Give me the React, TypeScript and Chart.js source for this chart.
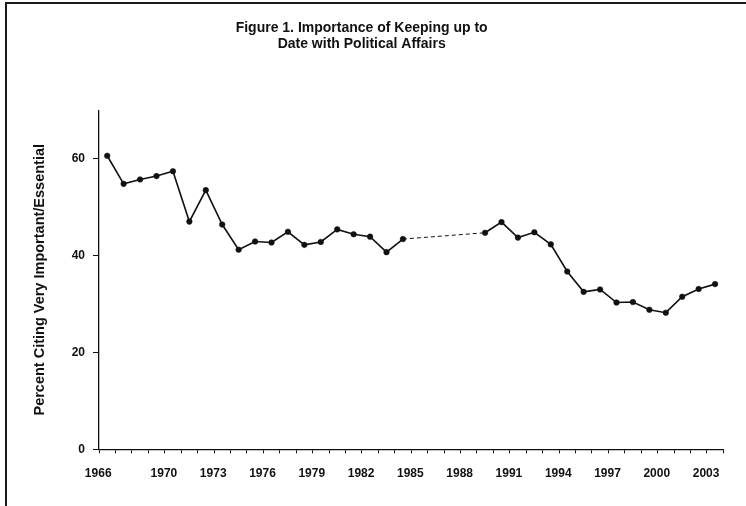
import React, { useEffect, useRef } from 'react';
import { Chart, registerables } from 'chart.js';

Chart.register(...registerables);

const titleLines = ['Figure 1. Importance of Keeping up to', 'Date with Political Affairs'];
const yAxisTitle = 'Percent Citing Very Important/Essential';

const years = [
  '1966', '1967', '1968', '1969', '1970', '1971', '1972', '1973', '1974', '1975',
  '1976', '1977', '1978', '1979', '1980', '1981', '1982', '1983', '1984', '1985',
  '1986', '1987', '1988', '1989', '1990', '1991', '1992', '1993', '1994', '1995',
  '1996', '1997', '1998', '1999', '2000', '2001', '2002', '2003',
];

const percentValues: (number | null)[] = [
  60.6, 54.8, 55.7, 56.4, 57.4, 47.0, 53.5, 46.4, 41.2, 42.9,
  42.7, 44.9, 42.2, 42.8, 45.4, 44.4, 43.9, 40.7, 43.4, null,
  null, null, null, 44.7, 46.9, 43.7, 44.8, 42.3, 36.7, 32.5,
  33.0, 30.3, 30.4, 28.8, 28.2, 31.5, 33.1, 34.1,
];

const xTickLabels = ['1966', '1970', '1973', '1976', '1979', '1982', '1985', '1988', '1991', '1994', '1997', '2000', '2003'];
const yTickValues = [0, 20, 40, 60];

const FONT = '"Liberation Sans", Arial, Helvetica, sans-serif';
const INK = '#111111';

const isGap = (ctx: any) => !!(ctx.p0?.skip || ctx.p1?.skip);

export default function App() {
  const canvasRef = useRef<HTMLCanvasElement | null>(null);

  useEffect(() => {
    const canvas = canvasRef.current;
    if (!canvas) return;
    const chart = new Chart(canvas, {
      type: 'line',
      data: {
        labels: years,
        datasets: [
          {
            data: percentValues,
            borderColor: INK,
            borderWidth: 1.6,
            pointRadius: 2.8,
            pointStyle: 'circle',
            pointBackgroundColor: INK,
            pointBorderColor: INK,
            pointBorderWidth: 0.5,
            spanGaps: true,
            tension: 0,
            segment: {
              borderDash: (ctx: any) => (isGap(ctx) ? [4, 3] : undefined),
              borderWidth: (ctx: any) => (isGap(ctx) ? 1 : undefined),
            },
          },
        ],
      },
      options: {
        responsive: false,
        animation: false,
        devicePixelRatio: 1,
        layout: { padding: { top: 0, left: 0, right: 22.7, bottom: 0 } },
        plugins: {
          legend: { display: false },
          tooltip: { enabled: false },
          title: {
            display: true,
            text: titleLines,
            color: INK,
            font: { family: FONT, size: 14, weight: 'bold', lineHeight: 1.15 },
            padding: { top: 20, bottom: 58 },
          },
        },
        scales: {
          x: {
            type: 'category',
            offset: true,
            grid: {
              display: true,
              offset: true,
              drawOnChartArea: false,
              drawTicks: true,
              tickLength: 4,
              tickWidth: 1,
              color: INK,
            },
            border: { display: true, color: INK, width: 1.3 },
            ticks: {
              autoSkip: false,
              maxRotation: 0,
              minRotation: 0,
              labelOffset: -9,
              padding: 13.5,
              color: INK,
              font: { family: FONT, size: 12, weight: 'bold' },
              callback: (_v: any, i: number) => (xTickLabels.includes(years[i]) ? years[i] : ''),
            },
            afterFit: (scale: any) => {
              scale.height = 56.7;
            },
          },
          y: {
            type: 'linear',
            min: 0,
            max: 70,
            grid: {
              display: true,
              drawOnChartArea: false,
              drawTicks: true,
              tickLength: 6,
              color: INK,
            },
            border: { display: true, color: INK, width: 1.3 },
            ticks: {
              padding: 8,
              color: INK,
              font: { family: FONT, size: 12, weight: 'bold' },
            },
            afterBuildTicks: (scale: any) => {
              scale.ticks = yTickValues.map((v) => ({ value: v }));
            },
            afterFit: (scale: any) => {
              scale.width = 99;
            },
            title: {
              display: true,
              text: yAxisTitle,
              color: INK,
              font: { family: FONT, size: 14.5, weight: 'bold', lineHeight: 1.2 },
              padding: { top: 31.3, bottom: 0 },
            },
          },
        },
      },
    });
    return () => chart.destroy();
  }, []);

  return (
    <div style={{ position: 'fixed', left: 0, top: 0, width: 746, height: 506, background: '#ffffff', overflow: 'hidden' }}>
      <div
        style={{
          position: 'absolute',
          left: 5,
          top: 2,
          right: -4,
          bottom: -4,
          borderTop: '2px solid #1a1a1a',
          borderLeft: '2px solid #1a1a1a',
        }}
      />
      <canvas ref={canvasRef} width={746} height={506} style={{ position: 'absolute', left: 0, top: 0, width: 746, height: 506 }} />
    </div>
  );
}
